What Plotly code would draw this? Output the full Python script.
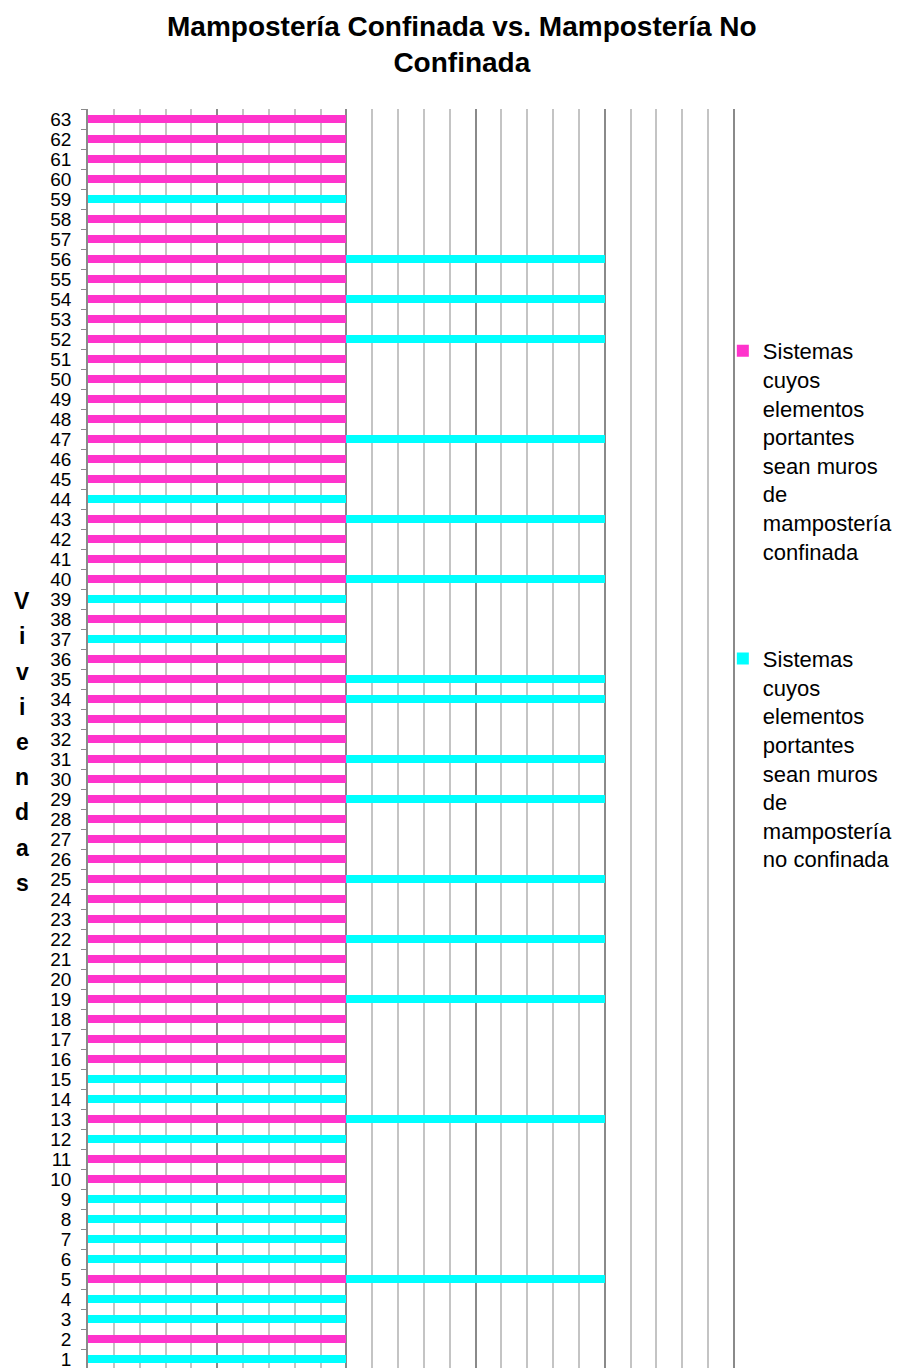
import plotly.graph_objects as go

viviendas = [str(i) for i in range(1, 64)]
confinada = [0, 1, 0, 0, 1, 0, 0, 0, 0, 1,
             1, 0, 1, 0, 0, 1, 1, 1, 1, 1,
             1, 1, 1, 1, 1, 1, 1, 1, 1, 1,
             1, 1, 1, 1, 1, 1, 0, 1, 0, 1,
             1, 1, 1, 0, 1, 1, 1, 1, 1, 1,
             1, 1, 1, 1, 1, 1, 1, 1, 0, 1,
             1, 1, 1]
no_confinada = [1, 0, 1, 1, 1, 1, 1, 1, 1, 0,
                0, 1, 1, 1, 1, 0, 0, 0, 1, 0,
                0, 1, 0, 0, 1, 0, 0, 0, 1, 0,
                1, 0, 0, 1, 1, 0, 1, 0, 1, 1,
                0, 0, 1, 1, 0, 0, 1, 0, 0, 0,
                0, 1, 0, 1, 0, 1, 0, 0, 1, 0,
                0, 0, 0]
serie_1 = "Sistemas<br>cuyos<br>elementos<br>portantes<br>sean muros<br>de<br>mampostería<br>confinada"
serie_2 = "Sistemas<br>cuyos<br>elementos<br>portantes<br>sean muros<br>de<br>mampostería<br>no confinada"
titulo = "Mampostería Confinada vs. Mampostería No<br>Confinada"
eje_y = "Viviendas"

FONT = "Liberation Sans, Arial, sans-serif"

fig = go.Figure()
fig.add_trace(go.Bar(y=viviendas, x=confinada, orientation="h", name=serie_1,
                     marker=dict(color="#FF33CC", line=dict(width=0)),
                     legendgroup="a"))
fig.add_trace(go.Bar(y=viviendas, x=no_confinada, orientation="h", name=serie_2,
                     marker=dict(color="#00FFFF", line=dict(width=0)),
                     legendgroup="b"))

W, H = 924, 1368
OFF = 8  # page body margin
# target screen positions of the plot area
sx0, sx1, sy0, sy1 = 88, 734, 109, 1369
XMAX = 2.52
sx1 = sx0 + (sx1 - sx0) * XMAX / 2.5
L = sx0 - OFF
T = sy0 - OFF
R = W - (sx1 - OFF)
B = H - (sy1 - OFF)
plot_w = W - L - R
plot_h = H - T - B


def px_x(sx):
    return (sx - OFF - L) / plot_w


def px_y(sy):
    return (H - B - (sy - OFF)) / plot_h


fig.update_layout(
    width=W, height=H,
    margin=dict(l=L, r=R, t=T, b=B, pad=0, autoexpand=False),
    paper_bgcolor="white", plot_bgcolor="white",
    barmode="stack", bargap=0.62,
    font=dict(family=FONT, color="black"),
    showlegend=True,
    legend=dict(x=px_x(723), xanchor="left", y=px_y(330), yanchor="top",
                font=dict(family=FONT, size=22, color="black"),
                valign="top", traceorder="grouped", tracegroupgap=76,
                itemwidth=30, bgcolor="rgba(0,0,0,0)"),
    xaxis=dict(range=[0, XMAX], dtick=0.5, showticklabels=False,
               showgrid=True, gridcolor="#8a8a8a", gridwidth=1.5,
               minor=dict(dtick=0.1, showgrid=True, gridcolor="#c4c4c4", gridwidth=1.5),
               zeroline=False, showline=False, ticks=""),
    yaxis=dict(type="category", categoryorder="array", categoryarray=viviendas,
               tickmode="array", tickvals=viviendas, ticktext=viviendas,
               showline=True, linecolor="#8a8a8a", linewidth=1.5,
               ticks="outside", ticklen=5, tickcolor="#8a8a8a", tickwidth=1,
               tickson="boundaries", showgrid=False,
               tickfont=dict(family=FONT, size=19, color="black"),
               ticklabelstandoff=11),
)

# title
fig.add_annotation(text="<b>" + titulo + "</b>", xref="paper", yref="paper",
                   x=px_x(462), y=px_y(45),
                   xanchor="center", yanchor="middle", showarrow=False,
                   font=dict(family=FONT, size=28, color="black"))

# vertical stacked axis title letters
letters = list(eje_y)
center_px = 742
spacing = 35.2
for i, ch in enumerate(letters):
    ypx = center_px + (i - (len(letters) - 1) / 2) * spacing
    fig.add_annotation(text="<b>" + ch + "</b>", xref="paper", yref="paper",
                       x=px_x(22), y=px_y(ypx),
                       xanchor="center", yanchor="middle", showarrow=False,
                       font=dict(family=FONT, size=23, color="black"))

fig.write_html("out.html")
